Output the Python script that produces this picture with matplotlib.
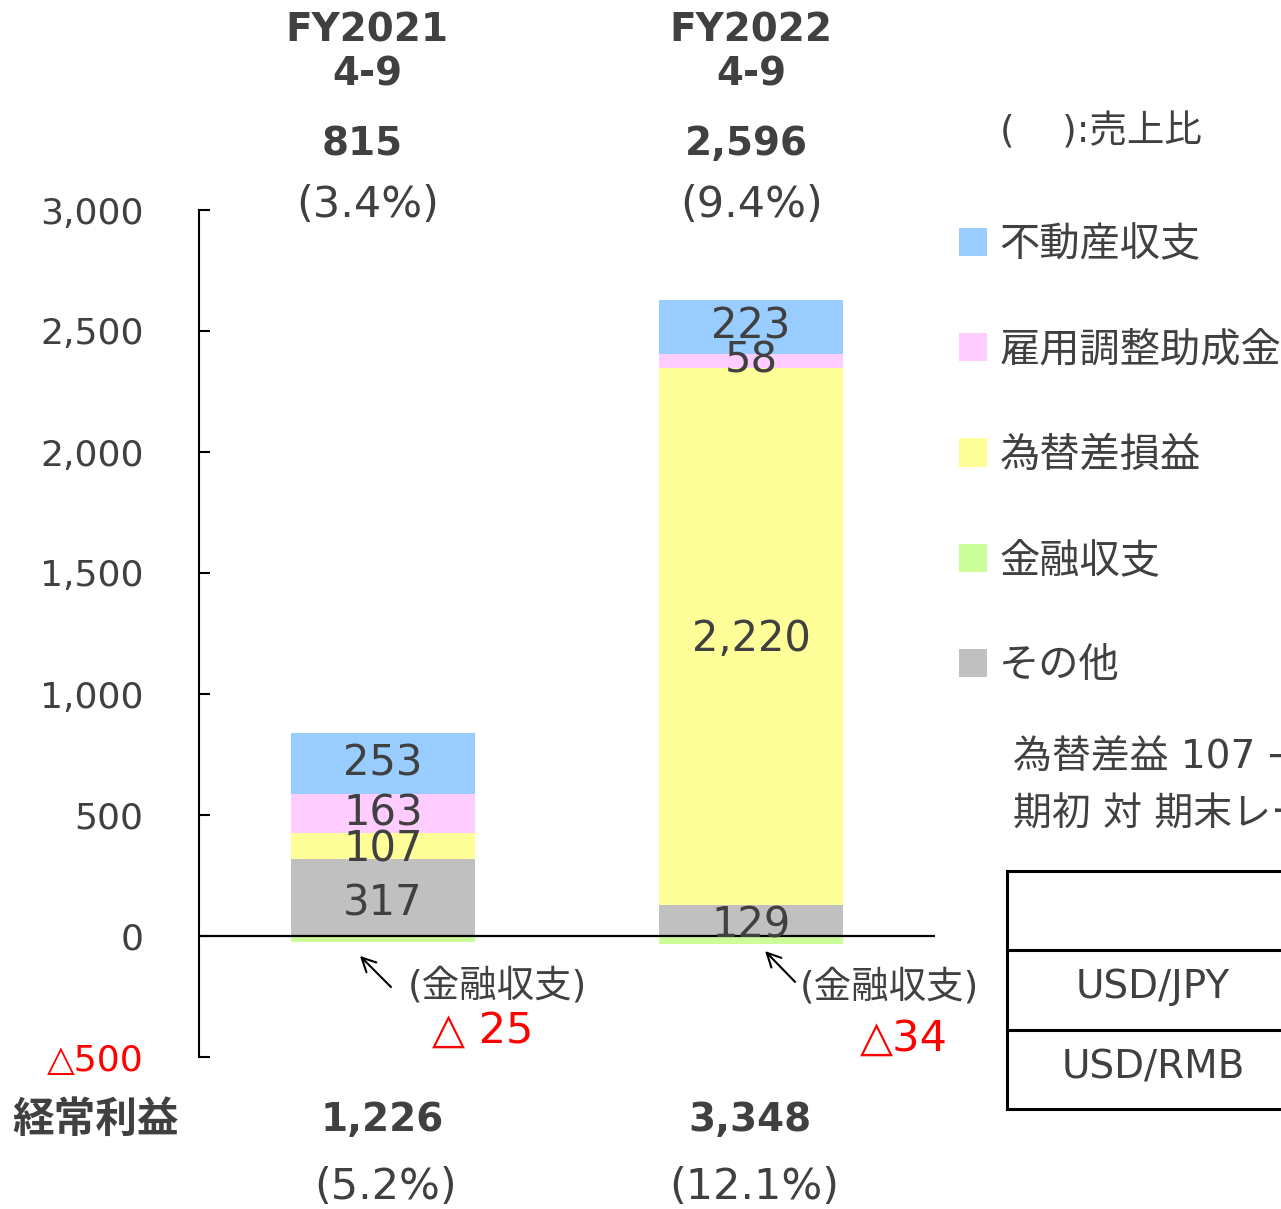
import numpy as np
import matplotlib
matplotlib.use("Agg")
import matplotlib.pyplot as plt
from matplotlib.lines import Line2D

# Latin text in DejaVu (wide, Verdana-like), Japanese falls back to Noto CJK
plt.rcParams['font.family'] = ['DejaVu Sans', 'Noto Sans CJK JP']

# data (百万円)
periods = ['FY2021\n4-9', 'FY2022\n4-9']
other = [317, 129]          # その他
fx = [107, 2220]            # 為替差損益
subsidy = [163, 58]         # 雇用調整助成金
realestate = [253, 223]     # 不動産収支
finance = [-25, -34]        # 金融収支
totals = ['815', '2,596']
total_ratio = ['(3.4%)', '(9.4%)']
ordinary = ['1,226', '3,348']
ordinary_ratio = ['(5.2%)', '(12.1%)']
yticks = [-500, 0, 500, 1000, 1500, 2000, 2500, 3000]
ytick_labels = ['△500', '0', '500', '1,000', '1,500', '2,000', '2,500', '3,000']

c_real = '#99CCFF'
c_sub = '#FFCCFF'
c_fx = '#FFFF99'
c_fin = '#CCFF99'
c_oth = '#C0C0C0'
txt = '#404040'

W, H = 1281, 1209
fig = plt.figure(figsize=(W / 100, H / 100), dpi=100)
ax = fig.add_axes([199 / W, 1 - 1057 / H, (935 - 199) / W, (1057 - 210) / H])

def fx_(px):
    return px / W

def fy_(py):
    return 1 - py / H

x = np.arange(len(periods))
bw = 0.5
other = np.array(other)
fx = np.array(fx)
subsidy = np.array(subsidy)
realestate = np.array(realestate)

b_oth = ax.bar(x, other, bw, color=c_oth, label='その他')
b_fx = ax.bar(x, fx, bw, bottom=other, color=c_fx, label='為替差損益')
b_sub = ax.bar(x, subsidy, bw, bottom=other + fx, color=c_sub, label='雇用調整助成金')
b_real = ax.bar(x, realestate, bw, bottom=other + fx + subsidy, color=c_real, label='不動産収支')
b_fin = ax.bar(x, finance, bw, color=c_fin, label='金融収支')

for bars, pad in ((b_oth, -4), (b_fx, -2), (b_sub, 0), (b_real, 0)):
    ax.bar_label(bars, fmt='{:,.0f}', label_type='center', padding=pad, fontsize=30, color=txt)

ax.axhline(0, color='black', lw=1.6)
ax.set_xlim(-0.5, 1.5)
ax.set_ylim(-500, 3000)
ax.set_xticks([])
ax.set_yticks(yticks)
ax.set_yticklabels(ytick_labels, fontsize=26, color=txt)
ax.get_yticklabels()[0].set_color('red')
ax.tick_params(axis='y', direction='in', length=8, width=1.5, pad=40)
for s in ('top', 'right', 'bottom'):
    ax.spines[s].set_visible(False)
ax.spines['left'].set_linewidth(1.5)

# 金融収支 annotations
ax.annotate('', xy=(-0.068, -74), xytext=(0.027, -219),
            arrowprops=dict(arrowstyle='->', color='black', lw=1.5, mutation_scale=25))
ax.annotate('', xy=(1.033, -54), xytext=(1.125, -198),
            arrowprops=dict(arrowstyle='->', color='black', lw=1.5, mutation_scale=25))
ax.text(0.068, -206, '(金融収支)', fontsize=27, color=txt, ha='left', va='center')
ax.text(1.133, -210, '(金融収支)', fontsize=27, color=txt, ha='left', va='center')
ax.text(0.271, -392, '△ 25', fontsize=31, color='red', ha='center', va='center')
ax.text(1.415, -425, '△34', fontsize=31, color='red', ha='center', va='center')

# headers
for px, lab in zip([367, 751], periods):
    l1, l2 = lab.split('\n')
    fig.text(fx_(px), fy_(31), l1, fontsize=28, fontweight='bold', color=txt, ha='center', va='center')
    fig.text(fx_(px), fy_(74), l2, fontsize=28, fontweight='bold', color=txt, ha='center', va='center')
for px, t, r in zip([362, 746], totals, total_ratio):
    fig.text(fx_(px), fy_(144), t, fontsize=28, fontweight='bold', color=txt, ha='center', va='center')
    fig.text(fx_(px + 6), fy_(205), r, fontsize=31, color=txt, ha='center', va='center')
fig.text(fx_(1000), fy_(132), '(    ):売上比', fontsize=27, color=txt, ha='left', va='center')

# bottom row
fig.text(fx_(12), fy_(1120), '経常利益', fontsize=30, fontweight='bold', color=txt, ha='left', va='center')
for px, t, r in zip([382, 750], ordinary, ordinary_ratio):
    fig.text(fx_(px), fy_(1120), t, fontsize=28, fontweight='bold', color=txt, ha='center', va='center')
    fig.text(fx_(px + 4), fy_(1187), r, fontsize=31, color=txt, ha='center', va='center')

# legend
leg = fig.legend(handles=[b_real, b_sub, b_fx, b_fin, b_oth],
                 labels=['不動産収支', '雇用調整助成金', '為替差損益', '金融収支', 'その他'],
                 loc='upper left', bbox_to_anchor=(fx_(959), fy_(225)), frameon=False,
                 fontsize=29, handlelength=0.7, handleheight=0.7, handletextpad=0.3,
                 labelspacing=1.62, borderpad=0, borderaxespad=0)
for t in leg.get_texts():
    t.set_color(txt)

# fx note and rate table (cut at right edge)
fig.text(fx_(1013), fy_(757), '為替差益 107 → 2,220', fontsize=28, color=txt, ha='left', va='center')
fig.text(fx_(1013), fy_(815), '期初 対 期末レート', fontsize=28, color=txt, ha='left', va='center')
for py in [871, 950, 1030, 1109]:
    fig.add_artist(Line2D([fx_(1007), 1.0], [fy_(py), fy_(py)], color='black', lw=2.2))
fig.add_artist(Line2D([fx_(1007), fx_(1007)], [fy_(871), fy_(1109)], color='black', lw=2.2))
fig.text(fx_(1153), fy_(987), 'USD/JPY', fontsize=28, color=txt, ha='center', va='center')
fig.text(fx_(1153), fy_(1067), 'USD/RMB', fontsize=28, color=txt, ha='center', va='center')

fig.savefig('out.png', dpi=100)
